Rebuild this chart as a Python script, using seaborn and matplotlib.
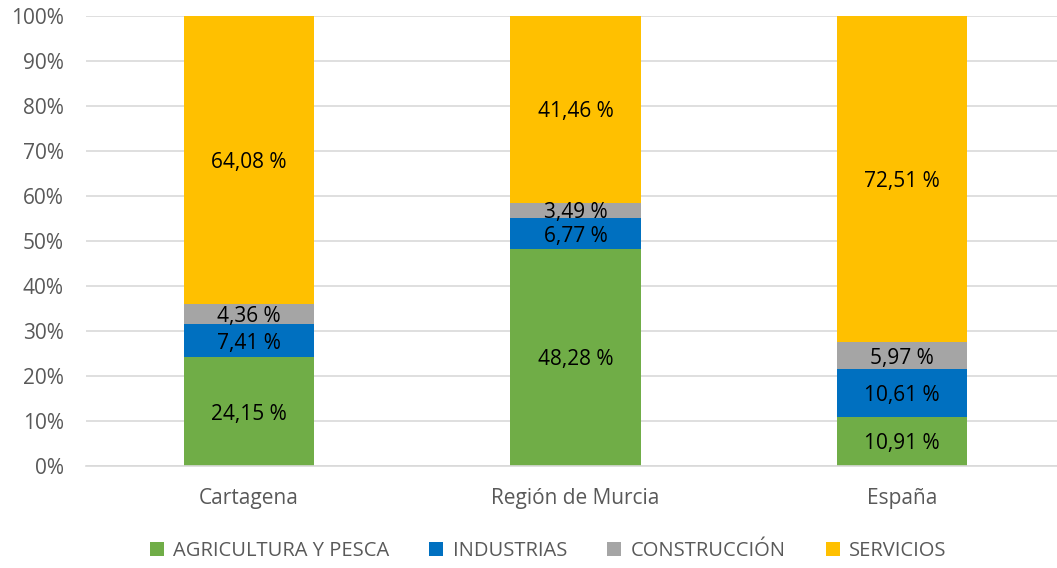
import numpy as np
import pandas as pd
import matplotlib
matplotlib.use("Agg")
import matplotlib.pyplot as plt
import seaborn as sns
from matplotlib.patches import Patch
from matplotlib.ticker import FuncFormatter

# Data (share of employment by sector, %)
regions = ["Cartagena", "Región de Murcia", "España"]
sectors = ["AGRICULTURA Y PESCA", "INDUSTRIAS", "CONSTRUCCIÓN", "SERVICIOS"]
agricultura = [24.15, 48.28, 10.91]
industrias = [7.41, 6.77, 10.61]
construccion = [4.36, 3.49, 5.97]
servicios = [64.08, 41.46, 72.51]
colors = ["#70AD47", "#0070C0", "#A5A5A5", "#FFC000"]

sns.set_style("white")
plt.rcParams["font.family"] = ["Open Sans", "DejaVu Sans"]

df = pd.DataFrame({
    "region": regions,
    sectors[0]: agricultura,
    sectors[1]: industrias,
    sectors[2]: construccion,
    sectors[3]: servicios,
})
cum = df[sectors].cumsum(axis=1)

fig = plt.figure(figsize=(10.57, 5.68), dpi=100)
ax = fig.add_axes([86 / 1057, 102 / 568, 979 / 1057, 450 / 568])

# stacked bars: draw cumulative totals from the top layer down
for sec, col in reversed(list(zip(sectors, colors))):
    sns.barplot(x=df["region"], y=cum[sec], color=col, saturation=1,
                width=0.4, errorbar=None, order=regions, ax=ax, zorder=2,
                linewidth=0, edgecolor=col)

# data labels in the middle of each segment
for sec in sectors:
    for i, r in enumerate(regions):
        val = df.loc[i, sec]
        mid = cum.loc[i, sec] - val / 2
        ax.text(i, mid, f"{val:.2f} %".replace(".", ","), ha="center",
                va="center_baseline", fontsize=15, color="#000000", zorder=3)

ax.set_xlim(-0.5, 2.5)
ax.set_ylim(0, 100)
ax.set_yticks(np.arange(0, 101, 10))
ax.yaxis.set_major_formatter(FuncFormatter(lambda v, p: f"{v:.0f}%"))
ax.set_xlabel("")
ax.set_ylabel("")
ax.grid(axis="y", color="#D9D9D9", linewidth=1.2, zorder=0)
ax.set_axisbelow(True)
for s in ["top", "right", "left"]:
    ax.spines[s].set_visible(False)
ax.spines["bottom"].set_color("#D9D9D9")
ax.spines["bottom"].set_linewidth(1.2)
ax.tick_params(axis="y", length=0, pad=16, labelsize=15, labelcolor="#595959")
ax.tick_params(axis="x", length=0, pad=16, labelsize=15, labelcolor="#595959")

handles = [Patch(facecolor=c, edgecolor="none") for c in colors]
fig.legend(handles, sectors, loc="center", bbox_to_anchor=(548 / 1057, 17 / 568),
           ncol=4, frameon=False, fontsize=14.5, labelcolor="#595959",
           handlelength=0.7, handleheight=0.7, handletextpad=0.45,
           columnspacing=2.0)

fig.savefig("out.png", dpi=100)
